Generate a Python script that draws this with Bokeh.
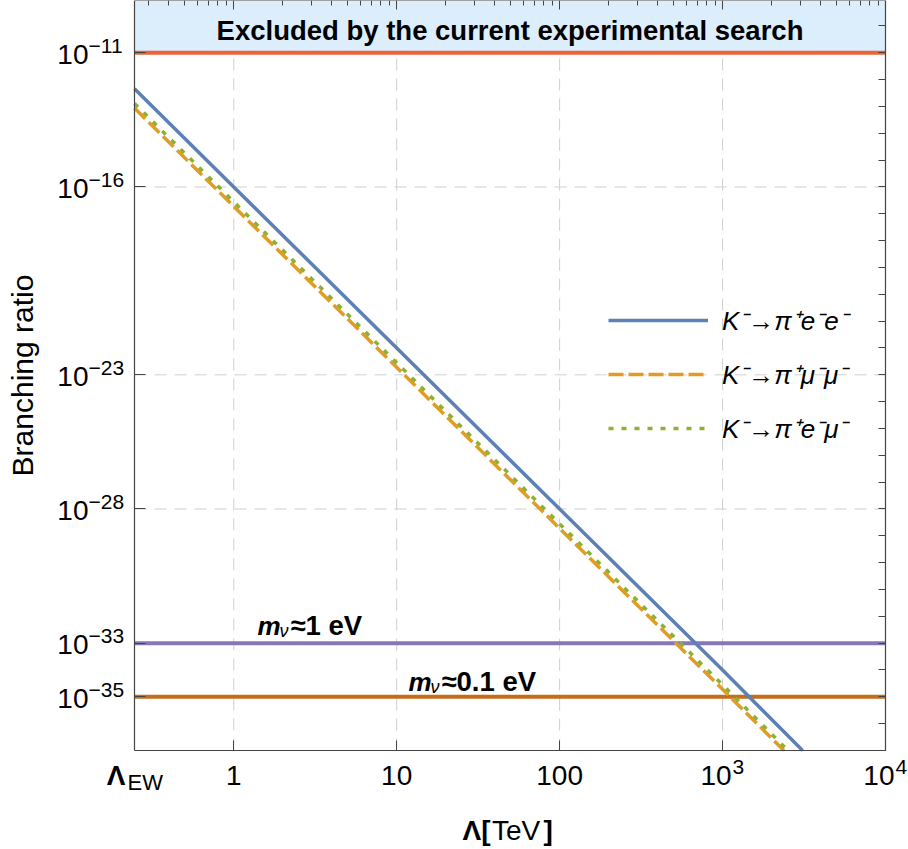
import math
from bokeh.plotting import figure
from bokeh.models import (LogAxis, FixedTicker, Label, BoxAnnotation,
                          Legend, LegendItem, Range1d, CustomJSTickFormatter)
from bokeh.embed import file_html
from bokeh.resources import INLINE

# ---------------- data ----------------
lam_ee = [0.246, 1, 10, 100, 1000, 3100]
br_ee = [4.6e-13, 1.0e-16, 1.0e-22, 1.0e-28, 1.0e-34, 1.0e-37]
lam_mumu = [0.246, 1, 10, 100, 1000, 2380]
br_mumu = [8.7e-14, 1.9e-17, 1.9e-23, 1.9e-29, 1.9e-35, 1.0e-37]
lam_emu = [0.246, 1, 10, 100, 1000, 2520]
br_emu = [1.3e-13, 2.8e-17, 2.8e-23, 2.8e-29, 2.8e-35, 1.0e-37]
series_labels = ["K⁻→π⁺e⁻e⁻", "K⁻→π⁺μ⁻μ⁻", "K⁻→π⁺e⁻μ⁻"]
series_colors = ["#5e81b5", "#e19c24", "#8fb032"]

exp_limit = 1e-11
exp_text = "Excluded by the current experimental search"
mnu_values = [1e-33, 1e-35]
mnu_texts = ["≈1 eV", "≈0.1 eV"]
hline_values = [exp_limit] + mnu_values
hline_colors = ["#eb6235", "#8778b3", "#c56e1a"]

lambda_ew = 0.246          # TeV
x_end = 1e4
y_bottom = 1e-37
y_top = 10 ** -9.05
x_major = [1, 10, 100, 1000, 10000]
x_major_labels = ["1", "10", "100", "10", "10"]
x_major_sups = ["", "", "", "3", "4"]
x_grid = [1, 10, 100, 1000]
y_major_exp = [-11, -16, -23, -28, -33, -35]

FONT = "Liberation Sans"
AX = "#444444"

# ---------------- geometry (pixels) ----------------
W, H = 908, 849
PLOT_L, PLOT_R, PLOT_T, PLOT_B = 134, 885, 0, 750
lx0, lx1 = math.log10(lambda_ew), math.log10(x_end)
sx = (PLOT_R - PLOT_L) / (lx1 - lx0)
x_lo = 10 ** (lx0 - PLOT_L / sx)
x_hi = 10 ** (lx1 + (W - PLOT_R) / sx)
ly0, ly1 = math.log10(y_bottom), math.log10(y_top)
sy = (PLOT_B - PLOT_T) / (ly1 - ly0)
y_lo = 10 ** (ly0 - (H - PLOT_B) / sy)
y_hi = 10 ** (ly1 + PLOT_T / sy)

p = figure(width=W, height=H, x_axis_type="log", y_axis_type="log",
           x_range=Range1d(x_lo, x_hi), y_range=Range1d(y_lo, y_hi),
           output_backend="svg", toolbar_location=None, title=None,
           min_border=0, min_border_left=0, min_border_right=0,
           min_border_top=0, min_border_bottom=0)
p.outline_line_color = None
p.background_fill_color = "white"
p.border_fill_color = "white"
p.xgrid.visible = False
p.ygrid.visible = False

blank = CustomJSTickFormatter(code="return ''")
y_ticks = [10.0 ** e for e in y_major_exp]
x_minor = [k * b for b in [0.1, 1, 10, 100, 1000] for k in range(2, 10) if k * b >= lambda_ew]

def style_axis(a):
    a.formatter = blank
    a.major_label_text_font_size = "2px"
    a.major_label_standoff = 0
    a.major_tick_out = 0
    a.minor_tick_out = 0
    a.axis_line_color = AX
    a.major_tick_line_color = AX
    a.minor_tick_line_color = AX
    a.axis_line_width = 1.2

# bottom axis
xa = p.xaxis[0]
xa.ticker = FixedTicker(ticks=x_major)
style_axis(xa)
xa.major_tick_in = 10
xa.minor_tick_line_color = None
xa.fixed_location = y_bottom
xa.bounds = (lambda_ew, x_end)

# left axis
ya = p.yaxis[0]
ya.ticker = FixedTicker(ticks=y_ticks)
style_axis(ya)
ya.major_tick_in = 11
ya.minor_tick_line_color = None
ya.fixed_location = lambda_ew
ya.bounds = (y_bottom, y_top)

# top axis
ta = LogAxis(ticker=FixedTicker(ticks=x_major, minor_ticks=x_minor))
style_axis(ta)
ta.major_tick_in = 9
ta.minor_tick_in = 5
ta.fixed_location = y_top
ta.bounds = (lambda_ew, x_end)
p.add_layout(ta, "above")

# right axis
ra = LogAxis(ticker=FixedTicker(ticks=[10.0 ** k for k in range(-37, -8)]))
style_axis(ra)
ra.major_tick_in = 7
ra.minor_tick_line_color = None
ra.fixed_location = x_end
ra.bounds = (y_bottom, y_top)
p.add_layout(ra, "right")

# excluded band
p.add_layout(BoxAnnotation(left=lambda_ew, right=x_end, bottom=exp_limit, top=y_top,
                           fill_color="#dcedfc", fill_alpha=1.0, line_color=None,
                           level="underlay"))

# dashed grid lines
p.segment(x0=x_grid, x1=x_grid, y0=[y_bottom] * len(x_grid), y1=[exp_limit] * len(x_grid),
          line_color="#cfcfcf", line_width=1, line_dash="12 8")
p.segment(x0=[lambda_ew] * len(y_ticks), x1=[x_end] * len(y_ticks), y0=y_ticks, y1=y_ticks,
          line_color="#cfcfcf", line_width=1, line_dash="12 8")

# horizontal reference lines
p.segment(x0=[lambda_ew] * 3, x1=[x_end] * 3, y0=hline_values, y1=hline_values,
          line_color=hline_colors, line_width=4)

# series
r1 = p.line(lam_ee, br_ee, line_color=series_colors[0], line_width=3.5)
r2 = p.line(lam_mumu, br_mumu, line_color=series_colors[1], line_width=3.5, line_dash="15 5")
r3 = p.line(lam_emu, br_emu, line_color=series_colors[2], line_width=3.5, line_dash="5 8")

legend = Legend(items=[LegendItem(label=series_labels[0], renderers=[r1]),
                       LegendItem(label=series_labels[1], renderers=[r2]),
                       LegendItem(label=series_labels[2], renderers=[r3])],
                location=(608, H - 455), glyph_width=100, glyph_height=54,
                label_height=54, spacing=0, padding=0, margin=0, label_standoff=14,
                label_text_font=FONT, label_text_font_style="italic",
                label_text_font_size="26px", label_text_color="black",
                background_fill_alpha=0, border_line_color=None)
p.add_layout(legend)

def lab(x, y, text, dx=0, base=0, size=28, style="normal", align="left"):
    """base = baseline position in px below the anchor point."""
    p.add_layout(Label(x=x, y=y, text=text, x_offset=dx,
                       y_offset=0.3465 * size - base,
                       text_font=FONT, text_font_size=f"{size}px",
                       text_font_style=style, text_align=align,
                       text_baseline="middle", text_color="black"))

# y tick labels
for e in y_major_exp:
    lab(lambda_ew, 10.0 ** e, "10", dx=-46, base=11, align="right")
    lab(lambda_ew, 10.0 ** e, "−" + str(-e), dx=-46, base=0, size=21)

# x tick labels
for v, t, s in zip(x_major, x_major_labels, x_major_sups):
    if s == "":
        lab(v, y_bottom, t, base=35, align="center")
    else:
        lab(v, y_bottom, t, dx=9, base=35, align="right")
        lab(v, y_bottom, s, dx=10, base=24, size=21)

lab(lambda_ew, y_bottom, "Λ", dx=-9, base=35, style="bold", align="right")
lab(lambda_ew, y_bottom, "EW", dx=-7, base=40, size=22)

# x axis title
x_mid = math.sqrt(lambda_ew * x_end)
lab(x_mid, y_bottom, "Λ[", dx=-47.5, base=90, style="bold")
lab(x_mid, y_bottom, "TeV", dx=-18, base=90)
lab(x_mid, y_bottom, "]", dx=33.5, base=90, style="bold")

# y axis title
y_mid = math.sqrt(y_bottom * y_top)
p.add_layout(Label(x=lambda_ew, y=y_mid, text="Branching ratio", x_offset=-112.4,
                   y_offset=0, angle=math.pi / 2, text_font=FONT, text_font_size="30px",
                   text_align="center", text_baseline="middle", text_color="black"))

# band text
lab(x_mid, exp_limit, exp_text, base=-12.9, size=27.5, style="bold", align="center")

# neutrino-mass labels
mnu_x = [1.398, 11.81]
mnu_base = [-8.4, -5.7]
for xv, yv, t, b in zip(mnu_x, mnu_values, mnu_texts, mnu_base):
    lab(xv, yv, "m", dx=0, base=b, size=26, style="bold italic")
    lab(xv, yv, "ν", dx=22, base=b + 2, size=18, style="italic")
    lab(xv, yv, t, dx=33, base=b, size=27.5, style="bold")

open("out.html", "w").write(file_html(p, INLINE))
